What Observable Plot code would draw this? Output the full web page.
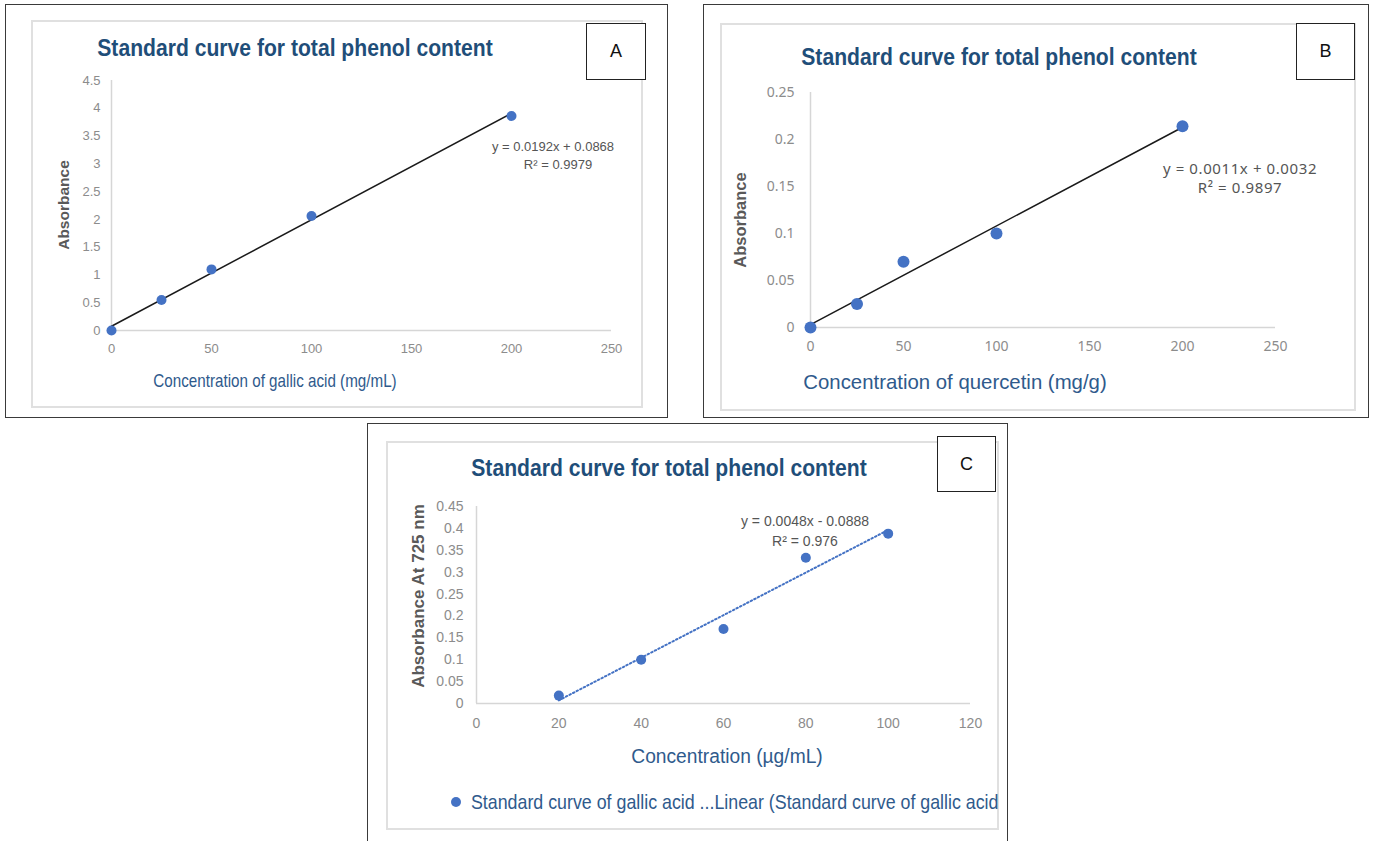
<!DOCTYPE html>
<html>
<head>
<meta charset="utf-8">
<script src="https://cdn.jsdelivr.net/npm/d3@7"></script>
<script src="https://cdn.jsdelivr.net/npm/@observablehq/plot@0.6"></script>
<style>
  body { margin: 0; background: #fff; }
  #wrap { position: relative; width: 1375px; height: 841px; overflow: hidden; font-family: "Liberation Sans", Arial, sans-serif; }
  .outer { position: absolute; border: 1px solid #3a3a3a; box-sizing: border-box; }
  .inner { position: absolute; border: 2px solid #e0e0e0; box-sizing: border-box; }
  .plot { position: absolute; }
  .lbl { position: absolute; border: 1px solid #222; box-sizing: border-box; background: #fff; font-family: "Liberation Sans", sans-serif; font-size: 18px; color: #111; display: flex; align-items: center; justify-content: center; }
  .title { position: absolute; font-weight: bold; color: #1f4e79; white-space: nowrap; transform: translate(-50%, -50%) scaleX(0.88); font-size: 24px; }
  .t { position: absolute; white-space: nowrap; transform: translate(-50%, -50%); }
  .rot { position: absolute; white-space: nowrap; transform: translate(-50%, -50%) rotate(-90deg); font-weight: bold; color: #595959; font-family: "Liberation Sans", sans-serif; }
  .xt { color: #2f5a8c; }
  .eq { color: #555; line-height: 1; }
</style>
</head>
<body>
<div id="wrap"></div>
<script>
// ---------- data ----------
const concA = [0, 25, 50, 100, 200];
const absA  = [0, 0.55, 1.10, 2.06, 3.86];
const concB = [0, 25, 50, 100, 200];
const absB  = [0, 0.025, 0.07, 0.1, 0.214];
const concC = [20, 40, 60, 80, 100];
const absC  = [0.018, 0.1, 0.17, 0.333, 0.388];

const ticksXA = [0, 50, 100, 150, 200, 250];
const ticksYA = [0, 0.5, 1, 1.5, 2, 2.5, 3, 3.5, 4, 4.5];
const ticksXB = [0, 50, 100, 150, 200, 250];
const ticksYB = [0, 0.05, 0.1, 0.15, 0.2, 0.25];
const ticksXC = [0, 20, 40, 60, 80, 100, 120];
const ticksYC = [0, 0.05, 0.1, 0.15, 0.2, 0.25, 0.3, 0.35, 0.4, 0.45];

const chartTitle = "Standard curve for total phenol content";
const panelLetters = ["A", "B", "C"];
const xTitles = ["Concentration of gallic acid (mg/mL)", "Concentration of quercetin (mg/g)", "Concentration (\u00b5g/mL)"];
const yTitles = ["Absorbance", "Absorbance", "Absorbance At 725 nm"];
const eqLines = ["y = 0.0192x + 0.0868", "y = 0.0011x + 0.0032", "y = 0.0048x - 0.0888"];
const r2Lines = ["R\u00b2 = 0.9979", "R\u00b2 = 0.9897", "R\u00b2 = 0.976"];
const legendText = "Standard curve of gallic acid ...Linear (Standard curve of gallic acid";

// ---------- helpers ----------
const wrap = document.getElementById("wrap");
function box(cls, l, t, w, h, html) {
  const d = document.createElement("div");
  d.className = cls;
  Object.assign(d.style, {left: l + "px", top: t + "px", width: w + "px", height: h + "px"});
  if (html != null) d.textContent = html;
  wrap.appendChild(d);
  return d;
}
function txt(cls, x, y, s, style) {
  const d = document.createElement("div");
  d.className = cls;
  d.style.left = x + "px"; d.style.top = y + "px";
  Object.assign(d.style, style || {});
  d.textContent = s;
  wrap.appendChild(d);
  return d;
}
const fmt = d => String(d);
const rows = (xs, ys) => xs.map((x, i) => ({x, y: ys[i]}));
const axisGrey = "#d6d6d6";
const tickGrey = "#8c8c8c";
const dotBlue = "#4472c4";

function panel(o) {
  const svg = Plot.plot({
    width: o.w, height: o.h,
    marginLeft: o.ml, marginRight: o.mr, marginTop: o.mt, marginBottom: o.mb,
    style: {background: "transparent", fontFamily: o.tickFont, fontSize: o.tickSize + "px", overflow: "visible"},
    x: {domain: o.xd, label: null, axis: null},
    y: {domain: o.yd, label: null, axis: null},
    marks: [
      Plot.ruleY([0], {stroke: axisGrey, strokeWidth: 1.5}),
      Plot.ruleX([0], {stroke: axisGrey, strokeWidth: 1.5}),
      Plot.axisX({ticks: o.tx, tickFormat: fmt, tickSize: 0, tickPadding: o.padX, color: tickGrey, label: null}),
      Plot.axisY({ticks: o.ty, tickFormat: fmt, tickSize: 0, tickPadding: o.padY, color: tickGrey, label: null}),
      Plot.linearRegressionY(o.data, {x: "x", y: "y", ci: 0, stroke: o.lineColor, strokeWidth: o.lineWidth, strokeDasharray: o.dash || null}),
      Plot.dot(o.data, {x: "x", y: "y", r: o.r, fill: dotBlue})
    ]
  });
  const holder = box("plot", o.l, o.t, o.w, o.h);
  holder.appendChild(svg);
}

// ---------- Panel A ----------
box("outer", 5, 4, 663, 414);
box("inner", 31, 20, 612, 388);
panel({l: 5, t: 4, w: 662, h: 413, ml: 106, mr: 56, mt: 76, mb: 87,
  xd: [0, 250], yd: [0, 4.5], tx: ticksXA, ty: ticksYA, padX: 13, padY: 11,
  tickFont: "Liberation Sans", tickSize: 13,
  data: rows(concA, absA), lineColor: "#1a1a1a", lineWidth: 1.5, r: 5});
box("lbl", 586, 23, 60, 57, panelLetters[0]);
txt("title", 295, 48, chartTitle);
txt("t xt", 275, 381, xTitles[0], {fontSize: "19px", transform: "translate(-50%,-50%) scaleX(0.8)"});
txt("rot", 64, 205, yTitles[0], {fontSize: "15.5px"});
txt("t eq", 553, 146, eqLines[0], {fontSize: "13px"});
txt("t eq", 558, 164, r2Lines[0], {fontSize: "13px"});

// ---------- Panel B ----------
box("outer", 703, 4, 666, 414);
box("inner", 720, 23, 636, 388);
panel({l: 703, t: 4, w: 665, h: 413, ml: 107, mr: 93, mt: 88, mb: 90,
  xd: [0, 250], yd: [0, 0.25], tx: ticksXB, ty: ticksYB, padX: 14, padY: 16,
  tickFont: "Noto Sans", tickSize: 14,
  data: rows(concB, absB), lineColor: "#1a1a1a", lineWidth: 1.5, r: 6});
box("lbl", 1296, 23, 59, 57, panelLetters[1]);
txt("title", 999, 57, chartTitle);
txt("t xt", 955, 382, xTitles[1], {fontSize: "21px", transform: "translate(-50%,-50%) scaleX(0.97)"});
txt("rot", 740, 220, yTitles[1], {fontSize: "16.5px"});
txt("t eq", 1240, 168, eqLines[1], {fontSize: "15px", fontFamily: "Noto Sans", letterSpacing: "0.6px"});
txt("t eq", 1240, 187, r2Lines[1], {fontSize: "15px", fontFamily: "Noto Sans", letterSpacing: "0.6px"});

// ---------- Panel C ----------
box("outer", 367, 423, 641, 420);
box("inner", 386, 441, 613, 389);
panel({l: 367, t: 423, w: 640, h: 418, ml: 109, mr: 37, mt: 83, mb: 138,
  xd: [0, 120], yd: [0, 0.45], tx: ticksXC, ty: ticksYC, padX: 15, padY: 13,
  tickFont: "Liberation Sans", tickSize: 14,
  data: rows(concC, absC), lineColor: dotBlue, lineWidth: 2, dash: "1.5,2.5", r: 5});
box("lbl", 937, 436, 59, 56, panelLetters[2]);
txt("title", 669, 468, chartTitle);
txt("t xt", 727, 756, xTitles[2], {fontSize: "20px", transform: "translate(-50%,-50%) scaleX(0.96)"});
txt("rot", 419, 596, yTitles[2], {fontSize: "17px"});
txt("t eq", 805, 521, eqLines[2], {fontSize: "14px"});
txt("t eq", 805, 541, r2Lines[2], {fontSize: "14px"});
const ld = box("", 451, 797, 10, 10);
Object.assign(ld.style, {position: "absolute", borderRadius: "50%", background: dotBlue});
txt("t xt", 471, 802, legendText, {fontSize: "19.8px", transform: "translate(0,-50%) scaleX(0.9)", transformOrigin: "left center"});
</script>
</body>
</html>
